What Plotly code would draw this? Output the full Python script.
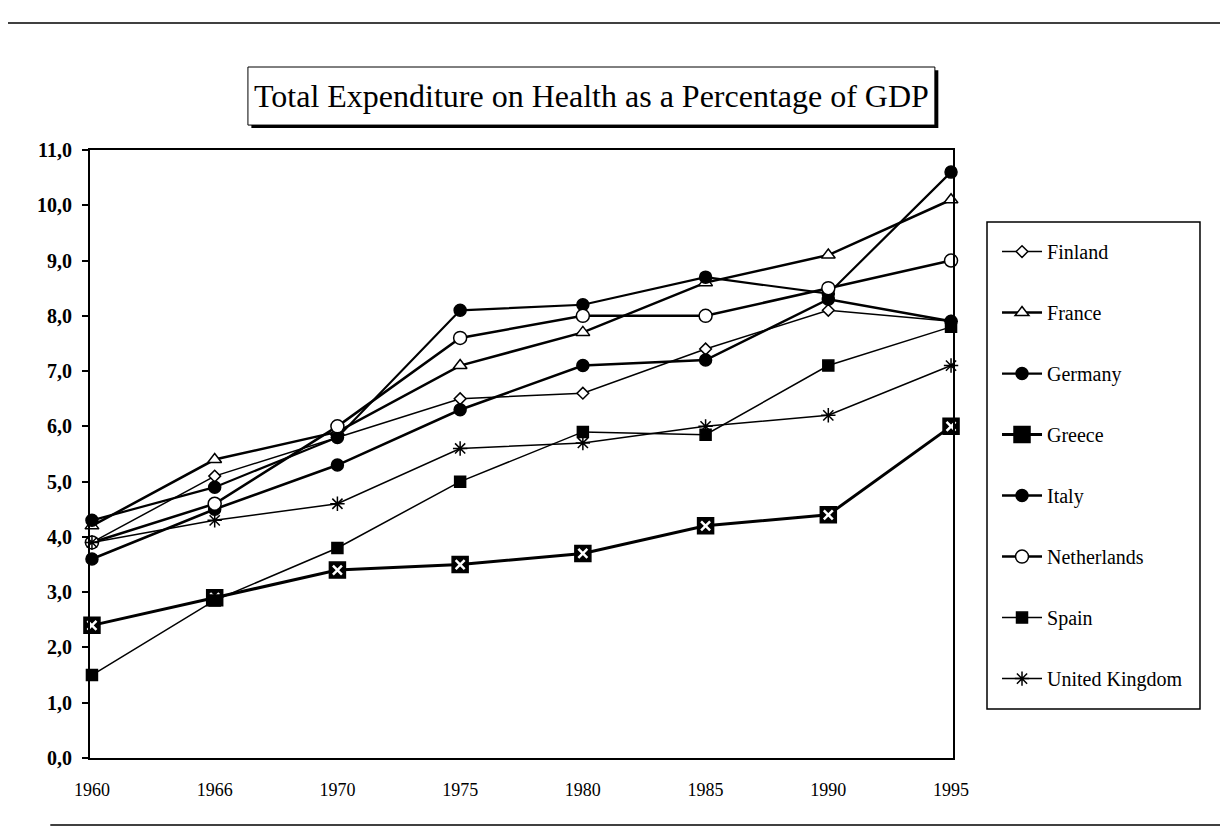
import plotly.graph_objects as go

YEARS = ["1960", "1966", "1970", "1975", "1980", "1985", "1990", "1995"]

FINLAND = [3.9, 5.1, 5.8, 6.5, 6.6, 7.4, 8.1, 7.9]
FRANCE = [4.2, 5.4, 5.9, 7.1, 7.7, 8.6, 9.1, 10.1]
GERMANY = [4.3, 4.9, 5.8, 8.1, 8.2, 8.7, 8.4, 10.6]
GREECE = [2.4, 2.9, 3.4, 3.5, 3.7, 4.2, 4.4, 6.0]
ITALY = [3.6, 4.5, 5.3, 6.3, 7.1, 7.2, 8.3, 7.9]
NETHERLANDS = [3.9, 4.6, 6.0, 7.6, 8.0, 8.0, 8.5, 9.0]
SPAIN = [1.5, 2.85, 3.8, 5.0, 5.9, 5.85, 7.1, 7.8]
UNITED_KINGDOM = [3.9, 4.3, 4.6, 5.6, 5.7, 6.0, 6.2, 7.1]

TITLE = "Total Expenditure on Health as a Percentage of GDP"
SERIF = "Liberation Serif, Times New Roman, Times, serif"

# name, values, symbol, marker size, fill, line width
SERIES = [
    ("Finland", FINLAND, "diamond", 9, "white", 1.5),
    ("France", FRANCE, "triangle-up", 12, "white", 2.5),
    ("Germany", GERMANY, "circle", 12, "black", 2.2),
    ("Greece", GREECE, "square", 16, "black", 3.0),
    ("Italy", ITALY, "circle", 12, "black", 2.5),
    ("Netherlands", NETHERLANDS, "circle", 13, "white", 2.5),
    ("Spain", SPAIN, "square", 11, "black", 1.5),
    ("United Kingdom", UNITED_KINGDOM, "asterisk-open", 12, "black", 1.5),
]


def build_figure() -> go.Figure:
    fig = go.Figure()
    for name, values, symbol, size, fill, lw in SERIES:
        fig.add_trace(
            go.Scatter(
                x=YEARS,
                y=values,
                name=name,
                legendgroup=name,
                mode="lines+markers",
                line=dict(color="black", width=lw),
                marker=dict(symbol=symbol, size=size, color=fill,
                            line=dict(color="black", width=1.5)),
                cliponaxis=False,
            )
        )
        if name == "Greece":
            # white cross inside the black Greece squares
            fig.add_trace(
                go.Scatter(
                    x=YEARS,
                    y=values,
                    legendgroup=name,
                    showlegend=False,
                    mode="markers",
                    marker=dict(symbol="x-thin-open", size=9, color="white",
                                line=dict(color="white", width=2.5)),
                    cliponaxis=False,
                    hoverinfo="skip",
                )
            )

    # the page sits 8px in from the window corner, so the figure is 8px smaller
    fig.update_layout(
        width=1220,
        height=827,
        margin=dict(l=82, r=275, t=142, b=77),
        paper_bgcolor="white",
        plot_bgcolor="white",
        separators=",.",
        font=dict(family=SERIF, color="black"),
        showlegend=True,
        legend=dict(
            x=1.051,
            y=0.865,
            xanchor="left",
            yanchor="top",
            borderwidth=0,
            bgcolor="rgba(0,0,0,0)",
            font=dict(family=SERIF, size=20),
            tracegroupgap=32,
            itemwidth=40,
        ),
    )

    fig.update_xaxes(
        type="category",
        range=[-0.016, 7.016],
        showgrid=False,
        zeroline=False,
        showline=True,
        linecolor="black",
        linewidth=2,
        mirror=True,
        ticks="",
        ticklabelstandoff=14,
        tickfont=dict(family=SERIF, size=18),
    )
    fig.update_yaxes(
        range=[0, 11],
        dtick=1,
        tickformat=".1f",
        showgrid=False,
        zeroline=False,
        showline=True,
        linecolor="black",
        linewidth=2,
        mirror=True,
        ticks="outside",
        ticklen=6,
        tickwidth=1.5,
        tickcolor="black",
        ticklabelstandoff=6,
        tickfont=dict(family=SERIF, size=20, weight="bold"),
    )

    # title box with a drop shadow
    fig.add_shape(type="rect", xref="paper", yref="paper",
                  x0=0.187, x1=0.983, y0=1.036, y1=1.131,
                  fillcolor="black", line=dict(width=0), layer="below")
    fig.add_shape(type="rect", xref="paper", yref="paper",
                  x0=0.183, x1=0.979, y0=1.041, y1=1.1365,
                  fillcolor="white", line=dict(color="black", width=1), layer="below")
    fig.add_annotation(
        text=TITLE, xref="paper", yref="paper", x=0.581, y=1.089,
        xanchor="center", yanchor="middle",
        showarrow=False, font=dict(family=SERIF, size=32, color="black"),
    )

    # legend frame
    fig.add_shape(type="rect", xref="paper", yref="paper",
                  x0=1.0394, x1=1.2862, y0=0.0806, y1=0.8816,
                  line=dict(color="black", width=1.5))

    # scanned page frame
    fig.add_shape(type="line", xref="paper", yref="paper",
                  x0=-0.098, x1=1.32, y0=1.209, y1=1.209,
                  line=dict(color="black", width=1.5))
    fig.add_shape(type="line", xref="paper", yref="paper",
                  x0=-0.046, x1=1.31, y0=-0.11, y1=-0.11,
                  line=dict(color="black", width=1.5))
    fig.add_shape(type="line", xref="paper", yref="paper",
                  x0=-0.098, x1=-0.098, y0=1.209, y1=0.35,
                  line=dict(color="black", width=1, dash="dot"))
    fig.add_shape(type="line", xref="paper", yref="paper",
                  x0=1.314, x1=1.314, y0=0.2, y1=-0.05,
                  line=dict(color="black", width=1, dash="dot"))
    return fig


def main() -> None:
    fig = build_figure()
    fig.write_html("out.html")


if __name__ == "__main__":
    main()
